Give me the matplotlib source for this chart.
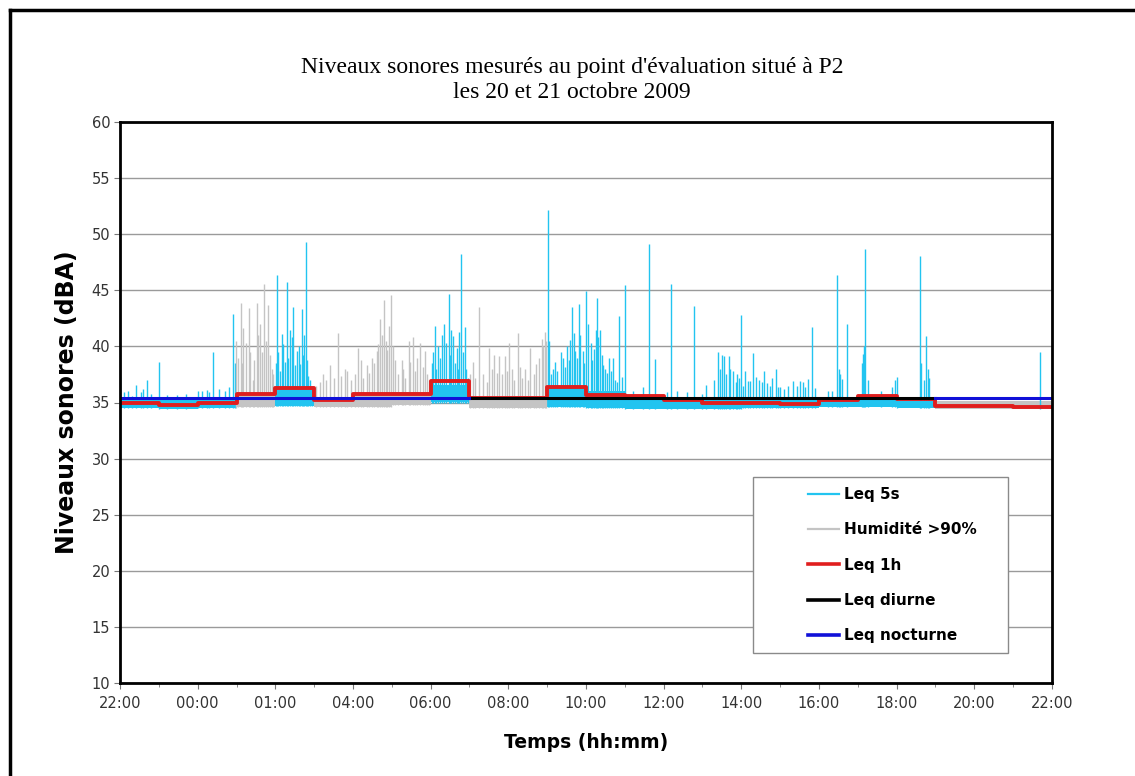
import matplotlib
matplotlib.use("Agg")
import matplotlib.pyplot as plt
from matplotlib.lines import Line2D
from matplotlib.patches import Rectangle
import numpy as np

# ---------------- data (hours after 22:00) ----------------
tick_labels = ["22:00", "00:00", "01:00", "04:00", "06:00", "08:00", "10:00",
               "12:00", "14:00", "16:00", "18:00", "20:00", "22:00"]

hour_index = list(range(24))
leq_1h = [35.0, 34.8, 35.0, 35.8, 36.3, 35.2, 35.8, 35.8, 36.9, 35.4, 35.4, 36.4,
          35.7, 35.55, 35.2, 35.0, 35.0, 34.9, 35.2, 35.6, 35.3, 34.7, 34.7, 34.6]

# hours where humidity > 90 % (series shown in gray)
humid_hours = [3, 5, 6, 7, 9, 10, 21, 22, 23]

# dense lower band of the 5 s series, per hour
band_low = [34.5, 34.4, 34.5, 34.6, 34.7, 34.6, 34.6, 34.8, 35.0, 34.5, 34.5, 34.6,
            34.5, 34.4, 34.4, 34.4, 34.5, 34.5, 34.6, 34.6, 34.5, 34.4, 34.4, 34.4]
band_high = [35.3, 35.2, 35.4, 35.8, 36.3, 35.3, 35.8, 35.9, 36.6, 35.5, 35.6, 36.5,
             36.0, 35.2, 35.1, 35.3, 35.3, 35.2, 35.4, 35.4, 35.1, 35.1, 35.1, 35.1]

# Leq 5s main peaks (cyan)
cyan_t = [0.0, 0.41, 0.53, 0.69, 1.01, 1.46, 2.02, 2.23, 2.4, 2.7, 2.9,
          4.05, 4.16, 4.29, 4.38, 4.46, 4.55, 4.68, 4.78, 4.85,
          8.10, 8.35, 8.46, 8.57, 8.67, 8.77, 8.88,
          11.01, 11.16, 11.42, 11.63, 11.72, 11.81, 11.92, 12.0, 12.12, 12.28, 12.36,
          12.49, 12.60, 12.85, 13.0, 13.22, 13.46, 13.61, 13.78, 14.08, 14.2, 14.34,
          14.59, 14.78, 14.98, 15.08, 15.39, 15.5, 15.55, 15.67, 15.79, 15.9, 15.98,
          16.1, 16.18, 16.29, 16.38, 16.53, 16.59, 16.74, 16.89, 17.0, 17.32, 17.43,
          17.58, 17.71, 17.81, 18.24, 18.33, 18.46, 18.6, 18.71, 19.14, 19.19, 19.87,
          20.0, 20.59, 20.75, 20.84, 23.69]
cyan_db = [37.4, 36.6, 35.9, 37.0, 38.6, 35.7, 36.0, 36.1, 39.5, 36.0, 42.9,
           46.4, 41.1, 45.7, 41.5, 43.5, 39.6, 43.3, 49.3, 37.4,
           41.8, 42.0, 44.7, 40.9, 39.9, 48.2, 41.7,
           52.2, 38.0, 39.0, 43.5, 39.6, 43.8, 39.6, 44.9, 40.3, 44.3, 41.5,
           38.0, 39.0, 42.7, 45.5, 36.0, 36.4, 49.1, 38.9, 35.9, 45.6, 36.0,
           35.9, 43.6, 35.8, 36.6, 39.5, 39.2, 39.1, 39.1, 37.8, 37.5, 42.8,
           37.8, 36.9, 39.4, 37.3, 36.8, 37.8, 36.5, 38.0, 36.4, 36.9, 36.5,
           36.8, 37.1, 41.7, 36.0, 36.0, 46.4, 37.1, 42.0, 39.3, 48.7, 36.4,
           37.3, 48.1, 40.9, 37.2, 39.5]

# Leq 5s secondary peaks (cyan, dense parts)
cyan_minor_t = [0.1, 0.2, 0.3, 0.6, 0.8, 1.2, 1.7, 2.1, 2.3, 2.55, 2.8, 2.95,
                4.02, 4.08, 4.12, 4.2, 4.24, 4.33, 4.42, 4.5, 4.6, 4.63, 4.72, 4.75,
                4.82, 4.9, 4.95,
                8.03, 8.06, 8.14, 8.2, 8.25, 8.3, 8.4, 8.5, 8.53, 8.62, 8.7, 8.73,
                8.82, 8.92, 8.96,
                11.05, 11.1, 11.2, 11.25, 11.35, 11.45, 11.5, 11.55, 11.6, 11.68,
                11.76, 11.85, 11.95, 12.05, 12.15, 12.2, 12.25, 12.32, 12.4, 12.45,
                12.55, 12.65, 12.7, 12.75, 12.8, 12.92,
                15.3, 15.45, 15.6, 15.72, 15.85, 15.95, 16.05, 16.23, 16.45, 16.65,
                16.8, 16.95, 17.1, 17.2, 17.5, 17.65, 17.9, 18.52, 18.55, 19.1,
                19.17, 19.25, 19.6, 19.95, 20.62, 20.7, 20.8]
cyan_minor_db = [35.9, 36.0, 35.6, 36.2, 35.8, 35.7, 35.8, 36.0, 35.9, 36.2, 36.4, 38.5,
                 38.5, 39.5, 37.8, 40.2, 38.6, 39.0, 40.8, 38.3, 40.0, 38.4, 39.2, 41.0,
                 38.8, 37.0, 36.5,
                 38.5, 39.5, 38.0, 40.0, 39.0, 41.0, 40.3, 39.2, 41.5, 38.5, 38.0, 41.3,
                 39.5, 38.0, 37.2,
                 40.5, 37.5, 38.6, 37.8, 39.5, 38.2, 40.0, 38.8, 40.6, 41.2,
                 39.0, 41.0, 38.5, 42.0, 38.8, 39.8, 41.5, 40.8, 39.2, 38.3,
                 37.6, 37.8, 39.0, 37.0, 36.8, 37.3,
                 37.0, 38.0, 37.5, 38.0, 36.8, 37.2, 36.5, 36.9, 37.0, 36.7,
                 37.2, 36.4, 36.2, 36.5, 36.9, 36.4, 36.3, 38.0, 37.5, 38.5,
                 40.0, 37.0, 36.0, 37.0, 38.5, 37.0, 38.0]

# Humidity > 90 % peaks (gray)
gray_t = [2.99, 3.12, 3.18, 3.31, 3.42, 3.52, 3.61, 3.72, 3.80, 3.91,
          5.24, 5.41, 5.62, 5.79, 6.14, 6.48, 6.61, 6.70, 6.80, 6.88, 6.97,
          7.08, 7.25, 7.43, 7.55, 7.73, 7.85,
          9.10, 9.25, 9.51, 9.63, 9.77, 9.91, 10.03, 10.24, 10.43, 10.56, 10.86, 10.94]
gray_db = [40.5, 43.9, 41.6, 43.4, 37.0, 43.9, 42.0, 45.6, 43.7, 38.0,
           37.5, 38.3, 41.2, 38.0, 39.9, 39.0, 39.6, 42.4, 44.1, 39.7, 44.6,
           38.8, 38.8, 40.5, 40.8, 40.3, 39.6,
           38.6, 43.5, 39.9, 39.2, 39.1, 39.1, 40.3, 41.2, 38.0, 39.9, 40.7, 41.3]

# Humidity > 90 % secondary peaks (gray)
gray_minor_t = [3.05, 3.15, 3.25, 3.36, 3.46, 3.56, 3.66, 3.76, 3.85, 3.95,
                5.05, 5.15, 5.3, 5.5, 5.7, 5.85, 5.95, 6.05, 6.2, 6.25, 6.35, 6.42,
                6.55, 6.65, 6.75, 6.84, 6.93, 7.02, 7.15, 7.3, 7.35, 7.48, 7.6, 7.65,
                7.8, 7.9, 7.95,
                9.02, 9.15, 9.35, 9.45, 9.57, 9.7, 9.83, 9.96, 10.1, 10.15, 10.3,
                10.35, 10.5, 10.65, 10.7, 10.8, 10.9, 10.97]
gray_minor_db = [39.0, 38.5, 40.3, 39.5, 38.8, 41.0, 39.5, 40.5, 39.2, 37.5,
                 36.5, 36.8, 37.0, 37.2, 37.4, 37.8, 37.0, 37.5, 38.8, 37.2, 38.3, 37.6,
                 38.5, 40.2, 41.0, 40.5, 41.8, 40.0, 37.5, 38.0, 37.2, 38.6, 37.8, 39.0,
                 38.2, 37.5, 37.0,
                 37.5, 37.2, 37.5, 36.8, 38.0, 37.6, 37.5, 37.8, 38.0, 37.0, 38.2,
                 37.2, 37.0, 37.5, 38.4, 39.0, 40.0, 40.5]

# Period levels
night_periods = [(0, 9), (21, 24)]
leq_nocturne = 35.4
day_periods = [(9, 21)]
leq_diurne = 35.4

# ---------------- styling ----------------
CYAN = "#22c4f0"
GRAY = "#c4c4c4"
RED = "#e01e1e"
BLUE = "#1010d8"

W, H = 1135, 776
fig = plt.figure(figsize=(W / 100, H / 100), dpi=100)
ax = fig.add_axes([120 / W, 1 - 683 / H, 932 / W, 561 / H])

# dense band of 5 s values
for h in hour_index:
    col = GRAY if h in humid_hours else CYAN
    ax.fill_between([h, h + 1], [band_low[h]] * 2, [band_high[h]] * 2,
                    color=col, lw=0, zorder=2)

def base_at(t):
    h = min(int(t), 23)
    return band_low[h]

LW = 1.0
ax.vlines(cyan_minor_t, [base_at(t) for t in cyan_minor_t], cyan_minor_db,
          color=CYAN, lw=LW, zorder=3)
ax.vlines(gray_minor_t, [base_at(t) for t in gray_minor_t], gray_minor_db,
          color=GRAY, lw=LW, zorder=3)
ax.vlines(cyan_t, [base_at(t) for t in cyan_t], cyan_db, color=CYAN, lw=LW, zorder=3)
ax.vlines(gray_t, [base_at(t) for t in gray_t], gray_db, color=GRAY, lw=LW, zorder=3)

# Leq 1h step
edges = hour_index + [24]
ax.step(edges, leq_1h + [leq_1h[-1]], where="post", color=RED, lw=2.8, zorder=4)

for a, b in day_periods:
    ax.plot([a, b], [leq_diurne, leq_diurne], color="black", lw=2.2, zorder=5)
for a, b in night_periods:
    ax.plot([a, b], [leq_nocturne, leq_nocturne], color=BLUE, lw=2.2, zorder=6)

ax.set_xlim(0, 24)
ax.set_ylim(10, 60)
ax.set_yticks(np.arange(10, 61, 5))
ax.set_xticks(np.arange(0, 25, 2))
ax.set_xticks(np.arange(1, 24, 2), minor=True)
ax.set_xticklabels(tick_labels)
ax.yaxis.grid(True, color="#9a9a9a", lw=1.0, zorder=0)
ax.set_axisbelow(True)
for s in ax.spines.values():
    s.set_linewidth(2.0)
    s.set_color("black")
    s.set_zorder(10)
ax.tick_params(axis="both", which="both", direction="out", color="#777777",
               labelcolor="#333333", labelsize=10.5)
ax.tick_params(axis="x", which="major", length=4, pad=5)
ax.tick_params(axis="x", which="minor", length=3)
ax.tick_params(axis="y", length=4, pad=3)

ax.set_xlabel("Temps (hh:mm)", fontsize=13.5, fontweight="bold", labelpad=16)
ax.set_ylabel("Niveaux sonores (dBA)", fontsize=17, fontweight="bold", labelpad=9)

fig.text(572 / W, 1 - 68 / H, "Niveaux sonores mesurés au point d'évaluation situé à P2",
         family="Liberation Serif", fontsize=17, ha="center", va="center")
fig.text(572 / W, 1 - 93 / H, "les 20 et 21 octobre 2009",
         family="Liberation Serif", fontsize=17, ha="center", va="center")

# legend
x0, x1 = (753 - 120) / 932, (1008 - 120) / 932
y0, y1 = (683 - 653) / 561, (683 - 477) / 561
ax.add_patch(Rectangle((x0, y0), x1 - x0, y1 - y0, transform=ax.transAxes,
                       facecolor="white", edgecolor="#8a8a8a", lw=1.0, zorder=20))
handles = [Line2D([], [], color=CYAN, lw=1.6),
           Line2D([], [], color=GRAY, lw=1.6),
           Line2D([], [], color=RED, lw=2.6),
           Line2D([], [], color="black", lw=2.6),
           Line2D([], [], color=BLUE, lw=2.6)]
labels = ["Leq 5s", "Humidité >90%", "Leq 1h", "Leq diurne", "Leq nocturne"]
leg = ax.legend(handles, labels, loc="upper left",
                bbox_to_anchor=((808 - 120) / 932, (683 - 487) / 561),
                frameon=False, borderpad=0, borderaxespad=0, handlelength=2.0,
                handletextpad=0.35, labelspacing=1.33,
                prop={"weight": "bold", "size": 11})
leg.set_zorder(21)

# outer frame
fig.add_artist(Line2D([9.5 / W, 1], [1 - 9.5 / H, 1 - 9.5 / H], transform=fig.transFigure,
                      color="black", lw=2.5))
fig.add_artist(Line2D([9.5 / W, 9.5 / W], [0, 1 - 9.5 / H], transform=fig.transFigure,
                      color="black", lw=2.5))

fig.savefig("out.png", dpi=100)
